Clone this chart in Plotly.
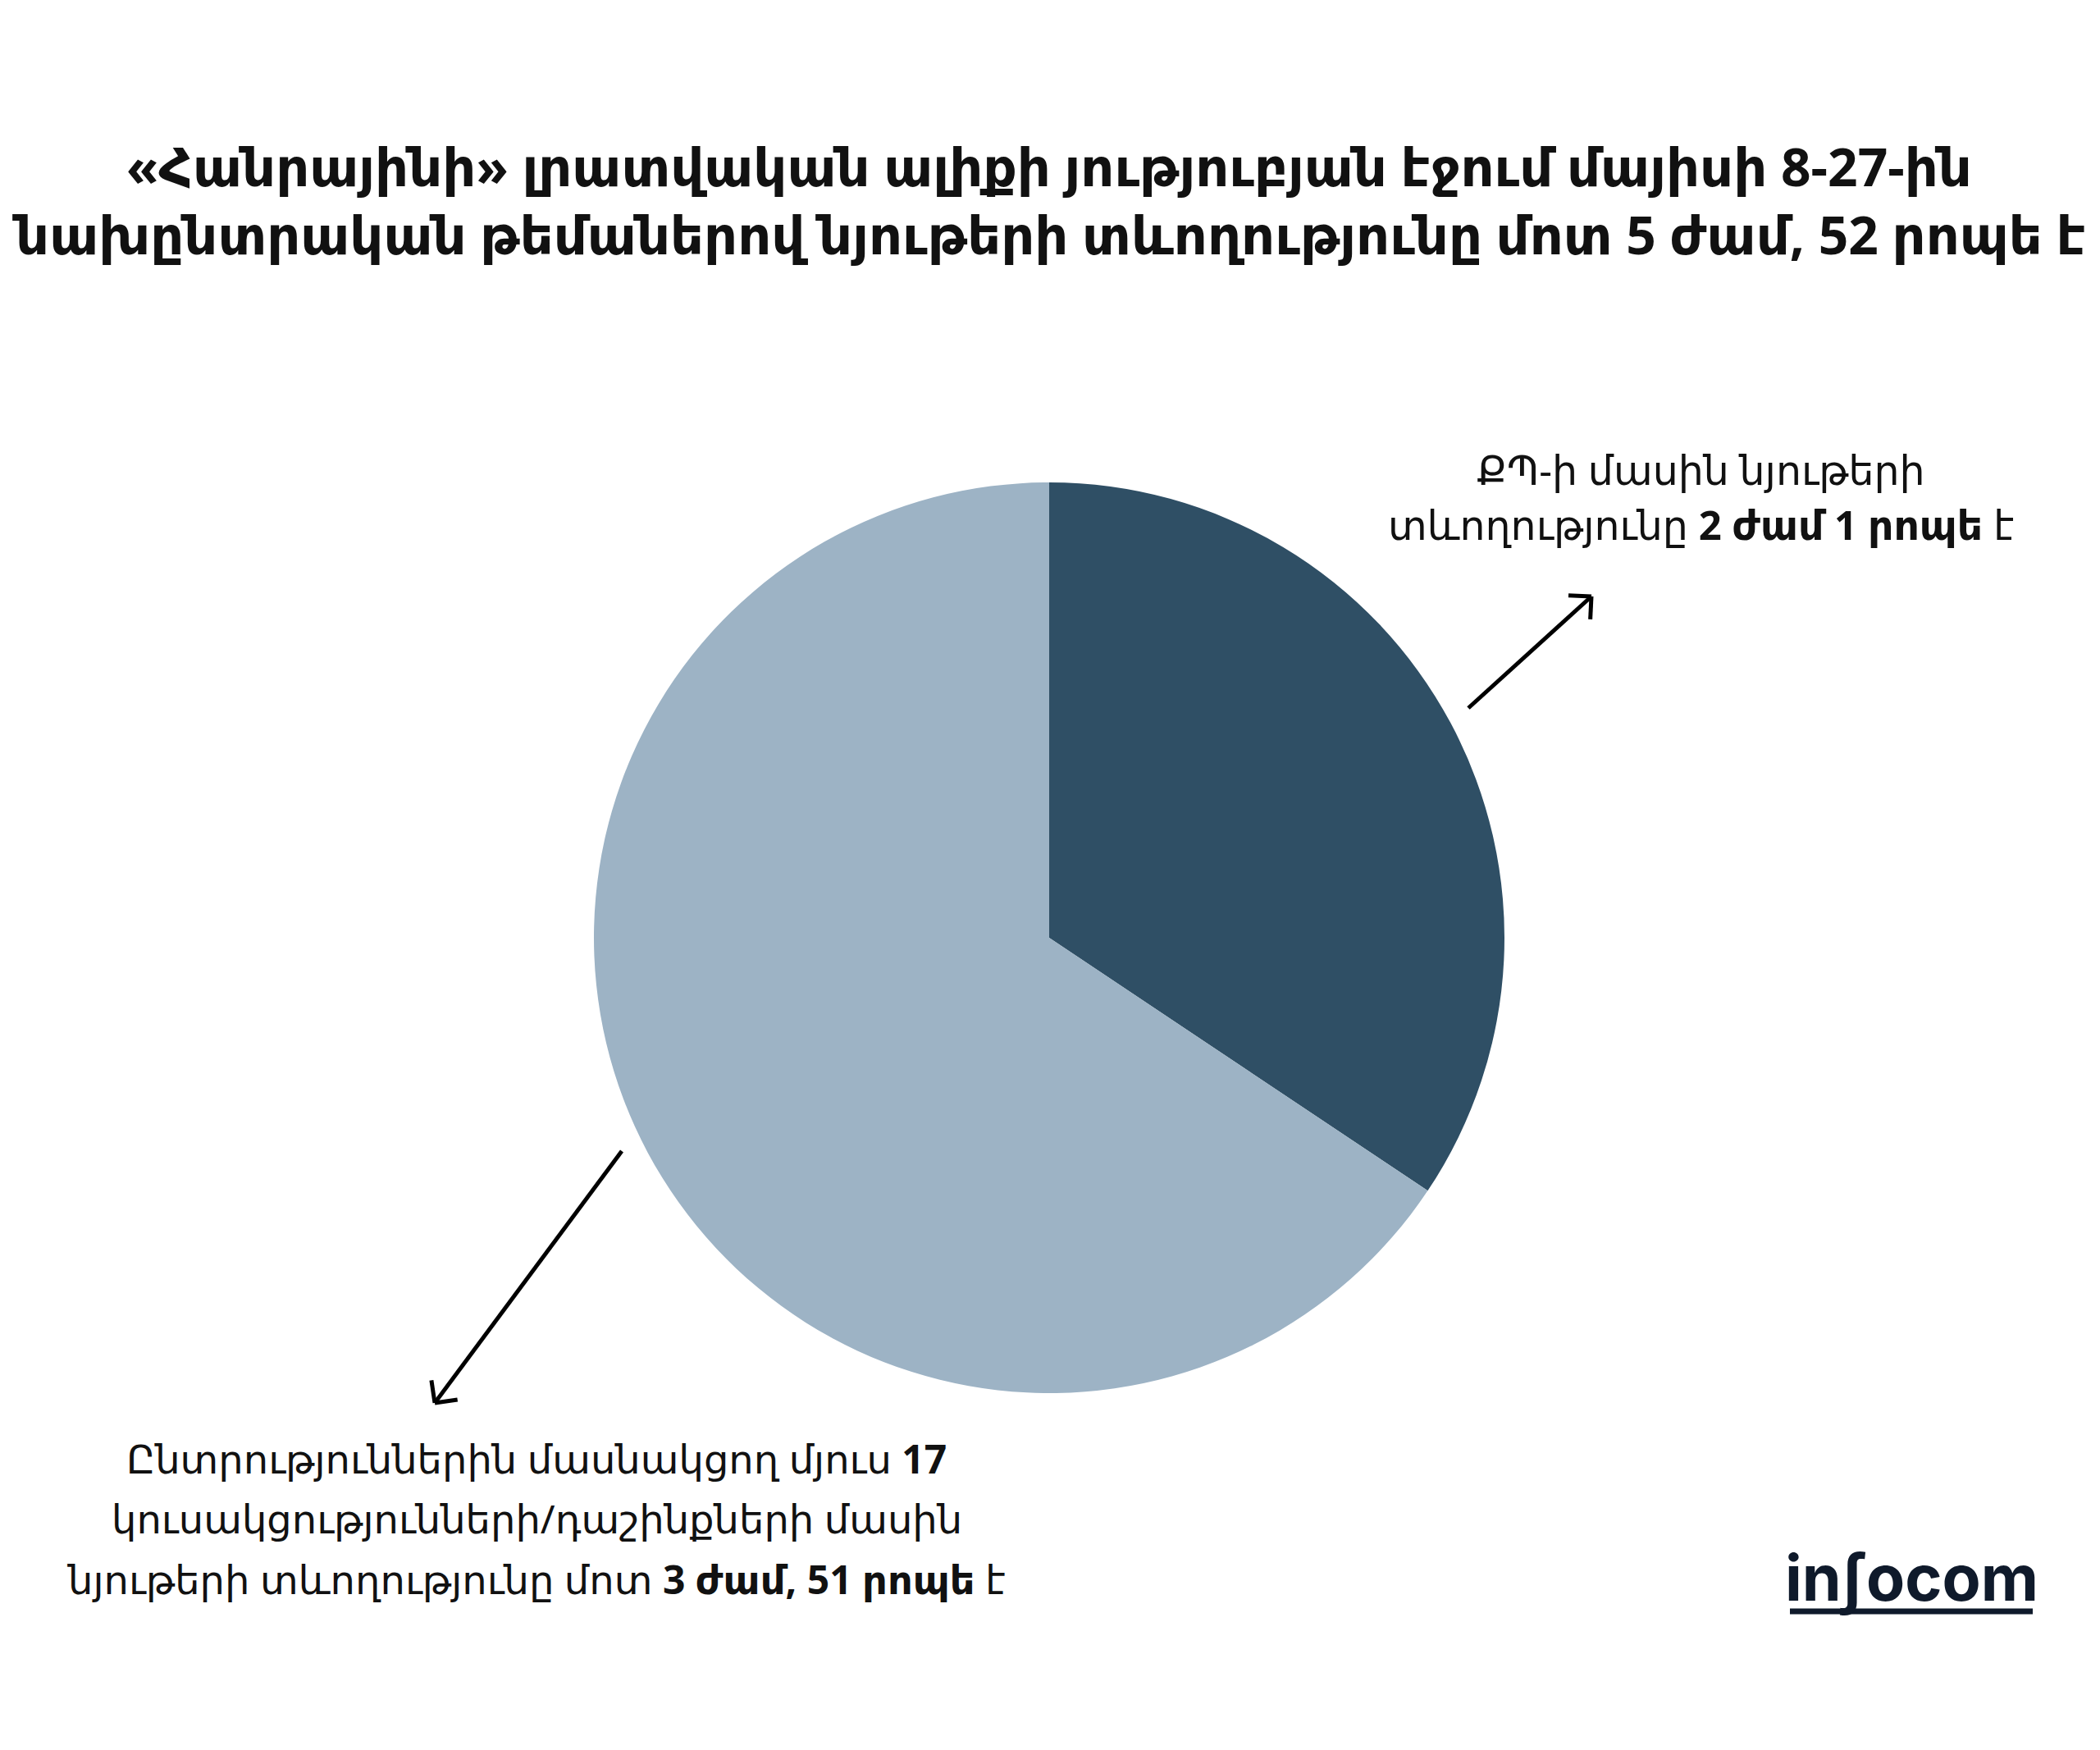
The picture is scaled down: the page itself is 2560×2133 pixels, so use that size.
import math
import plotly.graph_objects as go

# ---- data ----
categories = ["ՔՊ", "Այլ կուսակցություններ/դաշինքներ"]
minutes = [121, 231]          # 2 ժամ 1 րոպե, 3 ժամ 51 րոպե
colors = ["#2F4F65", "#9DB3C5"]

title_lines = [
    "«Հանրայինի» լրատվական ալիքի յություբյան էջում մայիսի 8-27-ին",
    "նախընտրական թեմաներով նյութերի տևողությունը մոտ 5 ժամ, 52 րոպե է",
]
label_kp_lines = ["ՔՊ-ի մասին նյութերի",
                  "տևողությունը <b>2 ժամ 1 րոպե</b> է"]
label_other_lines = ["Ընտրություններին մասնակցող մյուս <b>17</b>",
                     "կուսակցությունների/դաշինքների մասին",
                     "նյութերի տևողությունը մոտ <b>3 ժամ, 51 րոպե</b> է"]

W, H = 2560, 2133
FONT = "Noto Sans, DejaVu Sans, sans-serif"
OFF = 8  # page margin offset


def px(x, y):
    return (x - OFF) / W, 1 - (y - OFF) / H


fig = go.Figure()
cx, cy, r = 1279, 1143, 555
x0, y1 = px(cx - r, cy - r)
x1, y0 = px(cx + r, cy + r)
fig.add_trace(go.Pie(
    labels=categories, values=minutes, sort=False, direction="clockwise",
    rotation=0, marker=dict(colors=colors, line=dict(width=0)),
    textinfo="none", hoverinfo="skip", showlegend=False,
    domain=dict(x=[x0, x1], y=[y0, y1]),
))

annotations = []


def text(s, x, y, size, bold=False, family=FONT, color="#111111"):
    xx, yp = px(x, y)
    annotations.append(dict(text=f"<b>{s}</b>" if bold else s, x=xx, y=yp,
                            xref="paper", yref="paper", xanchor="center", yanchor="middle",
                            showarrow=False, font=dict(family=family, size=size, color=color)))


for line, yy in zip(title_lines, [202, 286]):
    text(line, 1279, yy, 64, bold=True)

for line, yy in zip(label_kp_lines, [572, 639]):
    text(line, 2073, yy, 49)

for line, yy in zip(label_other_lines, [1777, 1850, 1924]):
    text(line, 654, yy, 48)

# logo
text("inʃocom", 2330, 1923, 77, bold=True, family="Inter, Lato, sans-serif", color="#0F1A2B")

shapes = []


def seg(xa, ya, xb, yb, color="#000000", width=5):
    p0 = px(xa, ya)
    p1 = px(xb, yb)
    shapes.append(dict(type="line", xref="paper", yref="paper", x0=p0[0], y0=p0[1],
                       x1=p1[0], y1=p1[1], line=dict(color=color, width=width)))


def arrow(xa, ya, xb, yb):
    seg(xa, ya, xb, yb)
    ang = math.atan2(ya - yb, xa - xb)
    L = 28
    for d in (math.pi / 4, -math.pi / 4):
        seg(xb, yb, xb + L * math.cos(ang + d), yb + L * math.sin(ang + d))


arrow(1790, 863, 1940, 727)
arrow(758, 1403, 530, 1710)

# logo underline
seg(2182, 1964, 2478, 1964, color="#0F1A2B", width=7)

fig.update_layout(width=W, height=H, margin=dict(l=0, r=0, t=0, b=0),
                  paper_bgcolor="white", plot_bgcolor="white",
                  annotations=annotations, shapes=shapes)
fig.write_html("out.html")
